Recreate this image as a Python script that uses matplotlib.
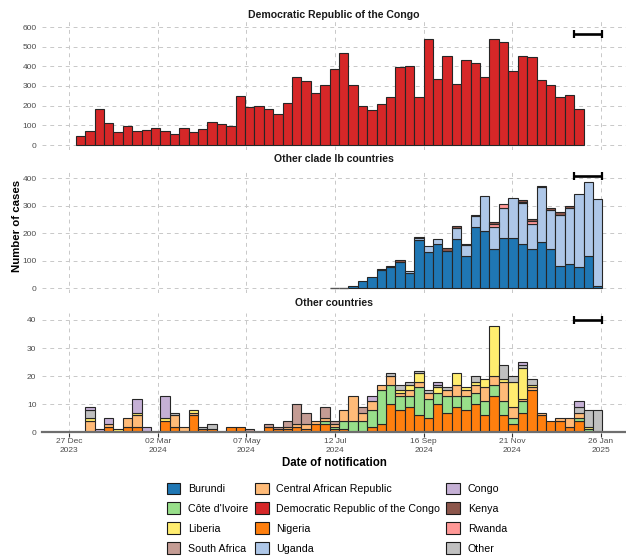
import matplotlib
matplotlib.use('Agg')
import matplotlib.pyplot as plt
import matplotlib.dates as mdates
from matplotlib.patches import Patch
import numpy as np
import pandas as pd

plt.rcParams['font.family'] = ['Liberation Sans', 'DejaVu Sans']

# ---------------- data ----------------
weeks = pd.date_range('2024-01-01', periods=56, freq='7D')   # week starts (Mondays)

# Panel 1: Democratic Republic of the Congo (weeks 0..53)
drc = [46, 73, 182, 113, 68, 96, 69, 76, 88, 73, 56, 88, 66, 83, 118, 108, 96, 248,
       191, 198, 184, 159, 215, 345, 326, 262, 307, 387, 470, 304, 196, 179, 211, 245,
       399, 402, 245, 539, 338, 453, 312, 432, 419, 346, 537, 522, 377, 454, 448, 331,
       304, 245, 255, 181]

# Panel 2: Other clade Ib countries (weeks 27..55, i.e. from 8 Jul 2024)
burundi = [0, 0, 8, 27, 40, 66, 75, 94, 54, 174, 132, 159, 134, 180, 116, 221, 207, 144,
           184, 184, 162, 143, 166, 143, 82, 87, 77, 118, 6]
uganda = [0, 0, 0, 0, 0, 4, 4, 0, 9, 10, 20, 18, 0, 37, 39, 41, 130, 80, 106, 144, 149,
          91, 201, 141, 185, 204, 267, 270, 318]
rwanda = [0, 0, 0, 0, 0, 0, 0, 0, 0, 0, 0, 0, 0, 0, 7, 0, 0, 10, 15, 0, 4, 12, 0, 0, 0,
          0, 0, 0, 0]
kenya = [0, 0, 0, 0, 0, 0, 0, 7, 0, 3, 0, 0, 12, 10, 0, 5, 0, 5, 0, 0, 7, 5, 6, 6, 10, 7,
         0, 0, 0]

# Panel 3: Other countries (weeks 0..55)
nigeria = [0, 0, 0, 2, 0, 2, 2, 0, 0, 4, 2, 0, 6, 1, 1, 0, 2, 2, 0, 0, 2, 1, 1, 2, 1, 3, 3,
           1, 1, 0, 0, 2, 3, 10, 8, 9, 6, 5, 10, 7, 9, 8, 10, 6, 13, 6, 3, 7, 15, 6, 4, 4,
           2, 4, 0, 0]
cote_divoire = [0, 0, 0, 0, 0, 0, 0, 0, 0, 0, 0, 0, 0, 0, 0, 0, 0, 0, 0, 0, 0, 0, 0, 0, 0,
                0, 1, 1, 3, 4, 4, 6, 12, 7, 5, 4, 10, 7, 4, 6, 4, 5, 4, 5, 4, 5, 2, 4, 0,
                0, 0, 0, 0, 1, 1, 0]
car = [0, 4, 0, 1, 0, 3, 4, 0, 0, 0, 4, 2, 1, 0, 0, 0, 0, 0, 0, 0, 0, 0, 1, 1, 2, 1, 1, 1,
       4, 9, 3, 3, 2, 3, 1, 2, 2, 2, 0, 2, 4, 2, 3, 5, 3, 7, 4, 1, 1, 1, 0, 1, 3, 2, 0, 0]
liberia = [0, 1, 0, 0, 1, 0, 1, 0, 0, 1, 0, 0, 1, 0, 0, 0, 0, 0, 0, 0, 0, 0, 0, 0, 0, 0, 0,
           0, 0, 0, 0, 0, 0, 0, 1, 2, 3, 0, 2, 0, 4, 1, 1, 3, 18, 1, 9, 11, 1, 0, 0, 0, 0,
           0, 1, 0]
south_africa = [0, 0, 0, 0, 0, 0, 0, 0, 0, 0, 0, 0, 0, 0, 0, 0, 0, 0, 1, 0, 1, 1, 2, 7, 4,
                0, 4, 1, 0, 0, 2, 0, 0, 0, 0, 0, 0, 0, 0, 0, 0, 0, 0, 0, 0, 0, 0, 0, 0, 0,
                0, 0, 0, 0, 0, 0]
other = [0, 3, 0, 0, 0, 0, 0, 0, 0, 0, 1, 0, 0, 1, 2, 0, 0, 0, 0, 0, 0, 0, 0, 0, 0, 0, 0,
         0, 0, 0, 0, 0, 0, 1, 2, 1, 1, 1, 1, 1, 0, 0, 2, 0, 0, 5, 2, 1, 2, 0, 0, 0, 0, 2,
         6, 8]
congo = [0, 1, 1, 2, 0, 0, 5, 2, 0, 8, 0, 0, 0, 0, 0, 0, 0, 0, 0, 0, 0, 0, 0, 0, 0, 0, 0, 0,
         0, 0, 0, 2, 0, 0, 0, 0, 0, 0, 1, 0, 0, 0, 0, 0, 0, 0, 0, 1, 0, 0, 0, 0, 0, 2, 0, 0]

# recent-period (reporting delay) bars
delay_start, delay_end = '2025-01-06', '2025-01-27'
delay_y = [566, 407, 40]

panel_titles = ['Democratic Republic of the Congo', 'Other clade Ib countries', 'Other countries']
tick_dates = ['2023-12-27', '2024-03-02', '2024-05-07', '2024-07-12', '2024-09-16',
              '2024-11-21', '2025-01-26']
tick_labels = ['27 Dec\n2023', '02 Mar\n2024', '07 May\n2024', '12 Jul\n2024',
               '16 Sep\n2024', '21 Nov\n2024', '26 Jan\n2025']

colors = {
    'Burundi': '#1f77b4', 'Central African Republic': '#ffbb78', 'Congo': '#c5b0d5',
    "Côte d'Ivoire": '#98df8a', 'Democratic Republic of the Congo': '#d62728',
    'Kenya': '#8c564b', 'Liberia': '#ffed6f', 'Nigeria': '#ff7f0e', 'Rwanda': '#ff9896',
    'South Africa': '#c49c94', 'Uganda': '#aec7e8', 'Other': '#c0c0c0',
}

# ---------------- figure ----------------
W, H = 626, 556
fig = plt.figure(figsize=(W / 100, H / 100), dpi=100)

def add_panel(top, bottom):
    return fig.add_axes([42 / W, 1 - bottom / H, (W - 42) / W, (bottom - top) / H])

d0 = mdates.date2num(pd.Timestamp('2023-12-27'))
pxday = 532 / 396.0
xlim = (d0 - 27 / pxday, d0 + (626 - 69) / pxday)
xw = mdates.date2num(weeks)
tick_x = mdates.date2num(pd.to_datetime(tick_dates))

EDGE = '#262626'

def stacked(ax, x, series):
    x = np.asarray(x)
    bottom = np.zeros(len(x))
    for vals, col in series:
        v = np.asarray(vals, dtype=float)
        m = v > 0
        ax.bar(x[m], v[m], width=7, bottom=bottom[m], align='edge', color=col,
               edgecolor=EDGE, linewidth=0.8, zorder=3)
        bottom += v
    z = bottom == 0
    if z.any():
        ax.bar(x[z], np.zeros(z.sum()), width=7, align='edge', color='none',
               edgecolor='#555555', linewidth=1.0, zorder=3)

def style(ax, ylim, yticks, title, title_y):
    ax.set_xlim(*xlim)
    ax.set_ylim(*ylim)
    ax.set_yticks(yticks)
    ax.set_yticklabels([str(t) for t in yticks], fontsize=6, color='#4d4d4d')
    ax.set_xticks(tick_x)
    ax.tick_params(axis='y', length=0, pad=4)
    for s in ax.spines.values():
        s.set_visible(False)
    ax.grid(True, color='#c8c8c8', linestyle=(0, (4, 4)), linewidth=0.7, zorder=0)
    ax.set_axisbelow(True)
    ax.patch.set_alpha(0)
    fig.text(334 / W, 1 - title_y / H, title, ha='center', va='center',
             fontsize=7.6, fontweight='bold', color='#1a1a1a')

def delay_bar(ax, y):
    xs = mdates.date2num(pd.Timestamp(delay_start))
    xe = mdates.date2num(pd.Timestamp(delay_end))
    ax.errorbar([(xs + xe) / 2], [y], xerr=[(xe - xs) / 2], fmt='none', ecolor='black',
                elinewidth=1.9, capsize=2.6, capthick=1.6, zorder=5)

# Panel 1
ax1 = add_panel(20, 150)
s1 = 600 / 118.0
style(ax1, (-5 * s1, 600 + 7 * s1), [0, 100, 200, 300, 400, 500, 600], panel_titles[0], 15)
stacked(ax1, xw[:len(drc)], [(drc, colors['Democratic Republic of the Congo'])])
delay_bar(ax1, delay_y[0])
ax1.tick_params(axis='x', length=0, labelbottom=False)

# Panel 2
ax2 = add_panel(170, 293)
s2 = 400 / 109.7
style(ax2, (-5 * s2, 400 + 8.3 * s2), [0, 100, 200, 300, 400], panel_titles[1], 159)
stacked(ax2, xw[27:], [(burundi, colors['Burundi']), (uganda, colors['Uganda']),
                      (rwanda, colors['Rwanda']), (kenya, colors['Kenya'])])
delay_bar(ax2, delay_y[1])
ax2.tick_params(axis='x', length=0, labelbottom=False)

# Panel 3
ax3 = add_panel(313, 433)
s3 = 40 / 112.3
style(ax3, (-0.7 * s3, 40 + 7 * s3), [0, 10, 20, 30, 40], panel_titles[2], 303)
stacked(ax3, xw, [(nigeria, colors['Nigeria']), (cote_divoire, colors["Côte d'Ivoire"]),
                  (car, colors['Central African Republic']), (liberia, colors['Liberia']),
                  (south_africa, colors['South Africa']), (other, colors['Other']),
                  (congo, colors['Congo'])])
delay_bar(ax3, delay_y[2])
ax3.axhline(0, color='#6e6e6e', linewidth=1.6, zorder=4, clip_on=False)
ax3.set_xticks(tick_x)
ax3.set_xticklabels(tick_labels)
for lab in ax3.get_xticklabels():
    lab.set_fontsize(6.0)
    lab.set_color('#4d4d4d')
    lab.set_linespacing(1.45)
ax3.tick_params(axis='x', length=3, width=0.8, color='#333333', pad=0.3)

fig.text(17 / W, 1 - 226 / H, 'Number of cases', rotation=90, ha='center', va='center',
         fontsize=8.2, fontweight='bold', color='black')
fig.text(334 / W, 1 - 463 / H, 'Date of notification', ha='center', va='center',
         fontsize=8.3, fontweight='bold', color='black')

# legend (filled by row in the original; reorder for column-wise filling)
legend_order = ['Burundi', "Côte d'Ivoire", 'Liberia', 'South Africa',
                'Central African Republic', 'Democratic Republic of the Congo', 'Nigeria', 'Uganda',
                'Congo', 'Kenya', 'Rwanda', 'Other']
handles = [Patch(facecolor=colors[k], edgecolor='#1a1a1a', linewidth=0.8) for k in legend_order]
fig.legend(handles, legend_order, ncol=3, loc='upper left',
           bbox_to_anchor=(158 / W, 1 - 474 / H), frameon=False, fontsize=7.7,
           handlelength=1.3, handleheight=1.3, handletextpad=0.7, columnspacing=0.6,
           labelspacing=0.77, borderpad=0.3)

fig.savefig('out.png', dpi=100)
